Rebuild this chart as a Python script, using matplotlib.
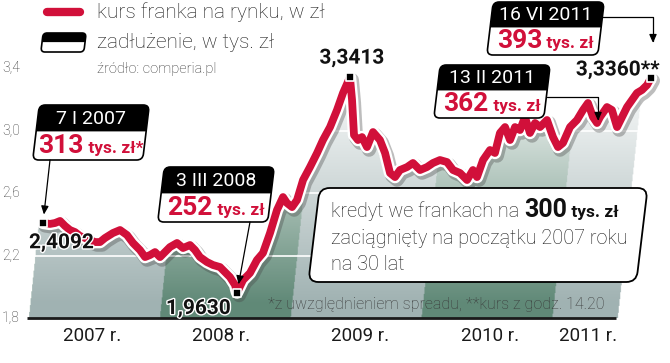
import numpy as np
import matplotlib.pyplot as plt
import matplotlib.patheffects as pe
from matplotlib.patches import FancyBboxPatch, Rectangle, Polygon
from matplotlib.transforms import Affine2D, blended_transform_factory

plt.rcParams['font.family'] = ['Roboto', 'DejaVu Sans']

# kurs franka (CHF/PLN), os x w latach
years = [2007.023, 2007.076, 2007.115, 2007.153, 2007.191, 2007.229, 2007.267, 2007.305,
         2007.344, 2007.382, 2007.420, 2007.458, 2007.496, 2007.557, 2007.611, 2007.664,
         2007.710, 2007.763, 2007.802, 2007.840, 2007.878, 2007.916, 2007.954, 2007.992,
         2008.046, 2008.092, 2008.145, 2008.183, 2008.221, 2008.275, 2008.321, 2008.374,
         2008.412, 2008.450, 2008.489, 2008.504, 2008.550, 2008.603, 2008.656, 2008.702,
         2008.756, 2008.809, 2008.855, 2008.885, 2008.924, 2008.962, 2009.008, 2009.061,
         2009.115, 2009.160, 2009.214, 2009.267, 2009.313, 2009.366, 2009.382, 2009.397,
         2009.427, 2009.458, 2009.496, 2009.542, 2009.595, 2009.634, 2009.672, 2009.710,
         2009.748, 2009.802, 2009.847, 2009.901, 2009.954, 2010.000, 2010.053, 2010.107,
         2010.153, 2010.206, 2010.260, 2010.305, 2010.336, 2010.382, 2010.435, 2010.473,
         2010.511, 2010.550, 2010.588, 2010.626, 2010.664, 2010.702, 2010.740, 2010.779,
         2010.817, 2010.870, 2010.916, 2010.954, 2010.992, 2011.046, 2011.099, 2011.145,
         2011.183, 2011.221, 2011.252, 2011.275, 2011.328, 2011.366, 2011.405, 2011.443,
         2011.481, 2011.519, 2011.557, 2011.595, 2011.634, 2011.664]
rate = [2.409, 2.402, 2.408, 2.421, 2.389, 2.363, 2.350, 2.325,
        2.312, 2.299, 2.286, 2.286, 2.312, 2.344, 2.363, 2.331,
        2.280, 2.235, 2.190, 2.203, 2.222, 2.190, 2.222, 2.254,
        2.280, 2.248, 2.267, 2.235, 2.190, 2.158, 2.139, 2.126,
        2.094, 2.062, 2.011, 1.963, 2.043, 2.088, 2.171, 2.216,
        2.344, 2.491, 2.574, 2.536, 2.510, 2.555, 2.683, 2.766,
        2.856, 2.939, 3.022, 3.131, 3.240, 3.341, 3.195, 2.971,
        2.939, 2.958, 2.894, 2.990, 2.939, 2.856, 2.728, 2.702,
        2.747, 2.766, 2.792, 2.747, 2.766, 2.792, 2.811, 2.798,
        2.747, 2.728, 2.683, 2.747, 2.702, 2.811, 2.875, 2.856,
        2.984, 3.022, 2.939, 3.022, 3.003, 3.086, 2.984, 3.048,
        3.022, 3.067, 2.958, 2.894, 2.920, 3.022, 3.067, 3.131,
        3.176, 3.086, 3.048, 3.086, 3.150, 3.131, 3.022, 3.086,
        3.150, 3.195, 3.240, 3.259, 3.291, 3.336]

point_years = [2007.023, 2008.504, 2009.366, 2011.664]
point_rates = [2.4092, 1.9630, 3.3413, 3.3360]
point_labels = ['2,4092', '1,9630', '3,3413', '3,3360**']

debt_dates = ['7 I 2007', '3 III 2008', '13 II 2011', '16 VI 2011']
debt_values = ['313', '252', '362', '393']
debt_units = ['tys. zł*', 'tys. zł', 'tys. zł', 'tys. zł']
debt_years = [2007.023, 2008.504, 2011.26, None]

y_ticks = [1.8, 2.2, 2.6, 3.0, 3.4]
y_tick_labels = ['1,8', '2,2', '2,6', '3,0', '3,4']
band_years = [2007, 2008, 2009, 2010, 2011]
year_labels = ['2007 r.', '2008 r.', '2009 r.', '2010 r.', '2011 r.']

RED = '#d1103a'
W, H = 670, 363

fig = plt.figure(figsize=(6.7, 3.63), dpi=100)
ax = fig.add_axes([0, 0, 1, 1])
ax.axis('off')

# piksele z poczatkiem w lewym gornym rogu
px = Affine2D().scale(1 / W, -1 / H).translate(0, 1) + fig.transFigure


def skew(yc, k=0.12):
    return Affine2D(np.array([[1, -k, k * yc], [0, 1, 0], [0, 0, 1]])) + px


# --- pasy lat pod krzywa, z gradientem ---
x0, x1, y0, y1 = 2006.8, 2011.8, 1.8, 3.45
xs = np.linspace(x0, x1, 900)
ys = np.linspace(y0, y1, 300)
X, Y = np.meshgrid(xs, ys)
S = X - (Y - 2.5) * 0.125
idx = np.floor(S).astype(int) - band_years[0]
valid = (S >= band_years[0]) & (S < band_years[-1] + 0.5)
light = np.array([0.63, 0.70, 0.70])
dark = np.array([0.38, 0.54, 0.47])
base = np.where((idx % 2 == 1)[..., None], dark, light)
fade = np.clip((Y - 1.9) / 1.5, 0, 0.95)[..., None]
rgb = base * (1 - fade) + fade
rgba = np.dstack([rgb, valid.astype(float)])
im = ax.imshow(rgba, extent=(x0, x1, y0, y1), origin='lower', aspect='auto',
               interpolation='bilinear', zorder=1)
verts = [(x0, 1.8), (x0, rate[0])] + list(zip(years, rate)) + [(x1, rate[-1]), (x1, 1.8)]
clip = Polygon(verts, closed=True, transform=ax.transData)
im.set_clip_path(clip)

ax.set_xlim(2007 - 40 / 131, 2007 + 630 / 131)
ax.set_ylim(1.8 - 45 * 0.0064, 1.8 + 318 * 0.0064)

for v in y_ticks[1:-1]:
    ax.axhline(v, color='white', lw=1.2, zorder=2)
ax.plot([2006.9, 2011.4], [1.8, 1.8], color='#1a1a1a', lw=2, solid_capstyle='butt', zorder=3)

# tick labels po lewej
ty = blended_transform_factory(px, ax.transData)
for v, lab in zip(y_ticks, y_tick_labels):
    ax.text(2, v, lab, transform=ty, ha='left', va='center', fontsize=10,
            fontweight='light', color='#333333')

tx = blended_transform_factory(ax.transData, px)
label_x = [2007.397, 2008.382, 2009.443, 2010.435, 2011.183]
for xv, lab in zip(label_x, year_labels):
    ax.text(xv, 336, lab, transform=tx, ha='center', va='center', fontsize=13.5, color='#1a1a1a')

# --- krzywa ---
ax.plot(years, rate, color=RED, lw=5.6, solid_joinstyle='round', solid_capstyle='round', zorder=5,
        path_effects=[pe.SimpleLineShadow(offset=(1.5, -2), shadow_color='#444444', alpha=0.35, linewidth=10),
                      pe.Stroke(linewidth=9, foreground='white'), pe.Normal()])
ax.scatter(point_years, point_rates, marker='s', s=40, c='black', edgecolors='white',
           linewidths=1.2, zorder=7)

offsets = [(-14, -20, 'left'), (-6, -16, 'right'), (2, 19, 'center'), (9, 8, 'right')]
for xv, v, lab, (dx, dy, ha) in zip(point_years, point_rates, point_labels, offsets):
    ax.annotate(lab, (xv, v), xytext=(dx, dy), textcoords='offset pixels', ha=ha, va='center',
                fontsize=15, fontweight='bold', color='#111111', zorder=8,
                path_effects=[pe.withStroke(linewidth=2, foreground='white')])

renderer = fig.canvas.get_renderer()


def rich(x, y, parts, ha='left'):
    arts = [ax.text(0, 0, s, transform=px, fontsize=size, fontweight=wt, color=c,
                    va='baseline', ha='left', zorder=9) for s, size, wt, c in parts]
    widths = [t.get_window_extent(renderer).width for t in arts]
    start = x - sum(widths) / 2 if ha == 'center' else x
    for t, w in zip(arts, widths):
        t.set_position((start, y))
        start += w


def debt_box(x, y, w, h, date=None, value=None, unit=None, rs=6):
    tr = skew(y + h / 2)
    outer = FancyBboxPatch((x, y), w, h, boxstyle='round,pad=0,rounding_size=%g' % rs,
                           transform=tr, fc='white', ec='black', lw=1.2, zorder=8)
    ax.add_patch(outer)
    top = Rectangle((x, y), w, h * 0.48, transform=tr, fc='black', ec='none', zorder=8)
    ax.add_patch(top)
    top.set_clip_path(outer)
    if date:
        ax.text(x + w / 2, y + h * 0.25, date, transform=px, color='white', ha='center',
                va='center', fontsize=14, zorder=9)
        rich(x + w / 2, y + h * 0.87, [(value, 19, 'bold', RED), (' ' + unit, 12.5, 'bold', RED)],
             ha='center')


boxes = [(36, 105, 110, 55), (161, 167, 110, 55), (437, 65, 110, 53), (490, 2, 111, 53)]
for (bx, by, bw, bh), d, v, u in zip(boxes, debt_dates, debt_values, debt_units):
    debt_box(bx, by, bw, bh, d, v, u)

arrow = dict(arrowstyle='-|>,head_length=0.5,head_width=0.22', color='black', lw=0.9)
ax.annotate('', xy=(debt_years[0], rate[0]), xytext=(50, 160), textcoords=px,
            arrowprops=dict(arrow, shrinkA=0, shrinkB=6), zorder=9)
ax.annotate('', xy=(debt_years[1], 1.963), xytext=(250, 222), textcoords=px,
            arrowprops=dict(arrow, shrinkA=0, shrinkB=6), zorder=9)
ax.annotate('', xy=(debt_years[2], np.interp(debt_years[2], years, rate)), xytext=(547, 97),
            textcoords=px, zorder=9,
            arrowprops=dict(arrow, shrinkA=0, shrinkB=0, connectionstyle='angle,angleA=0,angleB=90,rad=0'))
ax.annotate('', xy=(653, 43), xycoords=px, xytext=(601, 17), textcoords=px, zorder=9,
            arrowprops=dict(arrow, shrinkA=0, shrinkB=0, connectionstyle='angle,angleA=0,angleB=90,rad=0'))

# --- ramka z opisem kredytu ---
info = FancyBboxPatch((314, 188), 328, 94, boxstyle='round,pad=0,rounding_size=10',
                      transform=skew(235), fc='white', ec='black', lw=1.3, zorder=8)
ax.add_patch(info)
rich(331, 217, [('kredyt we frankach na ', 14.3, 'light', '#1a1a1a'), ('300', 18, 'bold', '#111111'),
                (' tys. zł', 12.5, 'bold', '#111111')])
ax.text(331, 244, 'zaciągnięty na początku 2007 roku', transform=px, fontsize=14.3,
        fontweight='light', color='#1a1a1a', va='baseline', zorder=9)
ax.text(331, 270, 'na 30 lat', transform=px, fontsize=14.3, fontweight='light',
        color='#1a1a1a', va='baseline', zorder=9)

ax.text(268, 309, '*z uwzględnieniem spreadu, **kurs z godz. 14.20', transform=px, fontsize=11.5,
        fontweight='light', color='#3a3a3a', va='baseline', zorder=4)

# --- legenda ---
ax.plot([47, 80], [12, 12], transform=px, color=RED, lw=6, solid_capstyle='round', zorder=9)
debt_box(42, 33, 43, 19, rs=4)
ax.text(97, 18, 'kurs franka na rynku, w zł', transform=px, fontsize=15, fontweight='light',
        color='#1a1a1a', va='baseline')
ax.text(97, 48, 'zadłużenie, w tys. zł', transform=px, fontsize=15, fontweight='light',
        color='#1a1a1a', va='baseline')
ax.text(97, 73, 'źródło: comperia.pl', transform=px, fontsize=10.5, fontweight='light',
        color='#333333', va='baseline')

fig.savefig('out.png', dpi=100)
